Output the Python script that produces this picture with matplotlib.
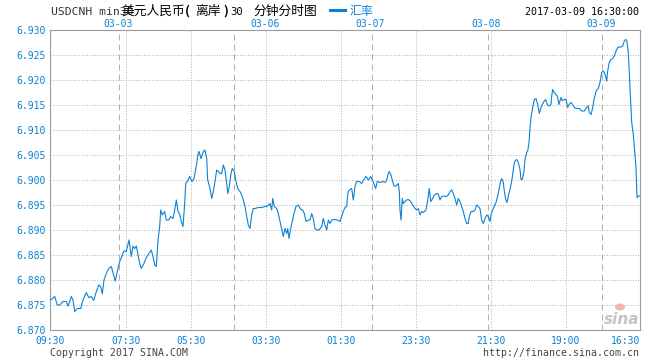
import matplotlib
matplotlib.use('Agg')
import matplotlib.pyplot as plt
from matplotlib.patches import Ellipse

# ---------------- data ----------------
pos = [0.7, 4.7, 7.3, 9.7, 13, 16.3, 18, 19.7, 21.3, 23, 24.7, 27.3, 30.7, 33, 36.3, 38.7,
       41.3, 43.7, 45.7, 48.7, 50.7, 52.3, 54, 56.3, 58.7, 61.3, 63.7, 65.3, 67.3, 69.7,
       71.3, 74, 76.3, 79, 81.3, 83, 84.7, 86.3, 88, 89.7, 91.3, 94, 96.3, 99, 101.3, 103,
       104.7, 106.3, 108, 109.7, 110.7, 112.3, 114.7, 116.3, 118.7, 120.7, 123, 124.7,
       126.3, 128, 130, 131.3, 133, 134.7, 135.7, 137.3, 139.7, 142, 144, 145.3, 146.7,
       148, 149, 151, 153.3, 155, 156.7, 157.7, 160, 161.7, 163.3, 165, 166.7, 168.3, 170,
       171.7, 173.3, 175, 176.7, 177.7, 179.3, 181, 182.3, 184.3, 186, 187.7, 190, 191.7,
       193.3, 195, 196.7, 198.3, 200, 201.7, 203.3, 205, 208.3, 211.7, 215, 216.7, 220,
       221.7, 222.7, 224.3, 226.7, 228.3, 230, 231.7, 233.3, 235, 236.7, 237.7, 239, 240.7,
       242.3, 244, 246, 248.3, 250.7, 252.7, 254.3, 256, 258.3, 260, 261.7, 263.3, 265,
       266.7, 269, 271.7, 273.3, 275, 276.7, 278.3, 280, 281.7, 285, 287.7, 290, 291.7,
       293.3, 295, 296.7, 297.3, 298.3, 300, 301.7, 303.3, 305, 306.7, 309.3, 311.7, 313.3,
       316, 318.3, 320.7, 322.3, 324.3, 325.7, 327.3, 330, 332.7, 335, 336.7, 338.3, 339.3,
       341, 342.7, 344, 346, 348.3, 349.3, 350, 351, 352.3, 353.3, 355, 356.7, 358.3, 360.7,
       362.7, 365, 366.7, 368.3, 370, 371.7, 373.3, 376, 377.7, 379.3, 380.7, 382.7, 384.3,
       386.7, 388.3, 390, 391.7, 393.3, 396, 398.3, 400, 401.7, 403.3, 405, 406.7, 408.3,
       410, 411.7, 413.3, 415, 416.7, 418.3, 419.3, 421, 423.3, 425, 426.7, 428.3, 430,
       431.7, 433.3, 435, 436.7, 438.3, 440, 441, 442.3, 444.3, 446, 447.7, 449, 450.7,
       451.7, 453.3, 454.3, 455.7, 457, 458.3, 460, 461.7, 462.7, 464, 465, 466.7, 468.3,
       470, 471, 472.3, 474, 475, 476.7, 477.7, 479, 480, 481, 482.7, 484.3, 486, 487.7,
       489.3, 491, 492.3, 494.3, 495.7, 497.3, 499.3, 501, 501.7, 502.7, 504.3, 505.7,
       507.3, 509, 511, 512.3, 514.3, 516, 517.7, 519, 521, 522.7, 524.3, 526.7, 529.3,
       531.7, 534.3, 536.7, 538.3, 539.3, 541, 542.3, 544, 545, 546, 548.3, 550, 551.7,
       553.3, 554.3, 555.7, 556.7, 557.7, 559, 560.7, 562.7, 564.3, 566, 567.7, 569.3, 571,
       572.7, 574.3, 575.7, 576.7, 578.3, 580, 581.7, 583.3, 585, 586, 587, 588.3, 589.7]

rate = [6.8760, 6.8767, 6.8750, 6.8750, 6.8757, 6.8757, 6.8748, 6.8757, 6.8767, 6.8760,
        6.8737, 6.8743, 6.8743, 6.8760, 6.8775, 6.8765, 6.8767, 6.8759, 6.8773, 6.8790,
        6.8787, 6.8772, 6.8800, 6.8813, 6.8823, 6.8827, 6.8810, 6.8798, 6.8817, 6.8837,
        6.8845, 6.8858, 6.8857, 6.8880, 6.8847, 6.8868, 6.8863, 6.8868, 6.8850, 6.8833,
        6.8823, 6.8833, 6.8845, 6.8853, 6.8860, 6.8847, 6.8830, 6.8827, 6.8880, 6.8907,
        6.8940, 6.8930, 6.8937, 6.8920, 6.8920, 6.8927, 6.8923, 6.8940, 6.8960, 6.8937,
        6.8930, 6.8917, 6.8907, 6.8953, 6.8993, 6.8997, 6.9007, 6.8997, 6.9003, 6.9017,
        6.9033, 6.9052, 6.9057, 6.9043, 6.9057, 6.9060, 6.9043, 6.9000, 6.8983, 6.8963,
        6.8977, 6.8997, 6.9020, 6.9017, 6.9013, 6.9013, 6.9030, 6.9020, 6.8993, 6.8973,
        6.8987, 6.9013, 6.9023, 6.9017, 6.8997, 6.8983, 6.8977, 6.8970, 6.8960, 6.8947,
        6.8927, 6.8910, 6.8903, 6.8930, 6.8943, 6.8943, 6.8945, 6.8945, 6.8947, 6.8947,
        6.8953, 6.8940, 6.8963, 6.8947, 6.8943, 6.8933, 6.8917, 6.8900, 6.8887, 6.8903,
        6.8893, 6.8903, 6.8883, 6.8903, 6.8917, 6.8933, 6.8947, 6.8950, 6.8941, 6.8940,
        6.8933, 6.8917, 6.8920, 6.8920, 6.8933, 6.8923, 6.8903, 6.8900, 6.8900, 6.8907,
        6.8923, 6.8910, 6.8900, 6.8920, 6.8913, 6.8920, 6.8921, 6.8920, 6.8917, 6.8927,
        6.8937, 6.8945, 6.8947, 6.8963, 6.8977, 6.8981, 6.8983, 6.8960, 6.8987, 6.8997,
        6.8997, 6.8993, 6.8999, 6.9007, 6.9000, 6.9007, 6.9000, 6.8990, 6.8983, 6.8997,
        6.8995, 6.8997, 6.8995, 6.9000, 6.9013, 6.9017, 6.9010, 6.8997, 6.8988, 6.8988,
        6.8993, 6.8977, 6.8940, 6.8920, 6.8963, 6.8953, 6.8957, 6.8960, 6.8961, 6.8957,
        6.8950, 6.8943, 6.8940, 6.8943, 6.8930, 6.8937, 6.8935, 6.8940, 6.8960, 6.8983,
        6.8957, 6.8963, 6.8970, 6.8973, 6.8972, 6.8960, 6.8967, 6.8968, 6.8967, 6.8970,
        6.8977, 6.8980, 6.8973, 6.8963, 6.8950, 6.8963, 6.8957, 6.8947, 6.8937, 6.8923,
        6.8913, 6.8913, 6.8927, 6.8937, 6.8937, 6.8940, 6.8950, 6.8947, 6.8943, 6.8920,
        6.8913, 6.8923, 6.8930, 6.8927, 6.8917, 6.8931, 6.8938, 6.8948, 6.8955, 6.8968,
        6.8981, 6.8998, 6.9003, 6.8995, 6.8978, 6.8961, 6.8955, 6.8968, 6.8981, 6.8998,
        6.9011, 6.9031, 6.9038, 6.9041, 6.9035, 6.9021, 6.9001, 6.9001, 6.9018, 6.9041,
        6.9055, 6.9058, 6.9075, 6.9105, 6.9125, 6.9145, 6.9161, 6.9163, 6.9151, 6.9133,
        6.9145, 6.9151, 6.9158, 6.9161, 6.9151, 6.9148, 6.9151, 6.9168, 6.9181, 6.9175,
        6.9171, 6.9168, 6.9151, 6.9165, 6.9159, 6.9161, 6.9161, 6.9145, 6.9151, 6.9155,
        6.9151, 6.9145, 6.9143, 6.9143, 6.9138, 6.9138, 6.9145, 6.9148, 6.9135, 6.9131,
        6.9141, 6.9161, 6.9168, 6.9178, 6.9183, 6.9195, 6.9215, 6.9218, 6.9215, 6.9206,
        6.9198, 6.9218, 6.9233, 6.9241, 6.9243, 6.9248, 6.9258, 6.9265, 6.9266, 6.9266,
        6.9268, 6.9278, 6.9281, 6.9279, 6.9255, 6.9185, 6.9115, 6.9091, 6.9048, 6.9025,
        6.8965, 6.8968, 6.8968]

y_ticks = [6.870, 6.875, 6.880, 6.885, 6.890, 6.895, 6.900, 6.905, 6.910, 6.915, 6.920, 6.925, 6.930]
time_tick_pos = [0, 75.7, 140.7, 216, 290.7, 365.7, 440.7, 515.7, 590]
time_tick_labels = ['09:30', '07:30', '05:30', '03:30', '01:30', '23:30', '21:30', '19:00', '16:30']
day_label_pos = [68, 215, 320, 436.3, 551]
day_labels = ['03-03', '03-06', '03-07', '03-08', '03-09']
day_breaks = [69.3, 184.3, 321.7, 437.7, 552.3]

# ---------------- style ----------------
BLUE = '#0c82d2'
GRID = '#b2b2b2'
FRAME = '#9a9a9a'
MONO = 'DejaVu Sans Mono'
CJK = ['Noto Sans CJK SC', 'DejaVu Sans']
plt.rcParams['font.family'] = [MONO]

W, H = 660, 360
fig = plt.figure(figsize=(W / 100, H / 100), dpi=100)
fig.patch.set_facecolor('white')


def fx(x):
    return x / W


def fy(y):
    return 1 - y / H


ax = fig.add_axes([50 / W, 30 / H, 590 / W, 300 / H])
ax.set_xlim(0, 590)
ax.set_ylim(6.870, 6.930)

for y in y_ticks[1:-1]:
    ax.axhline(y, color=GRID, lw=0.72, ls=(0, (1, 1.6)), zorder=1)
for x in time_tick_pos[1:-1]:
    ax.axvline(x, color=GRID, lw=0.72, ls=(0, (1, 1.6)), zorder=1)
for x in day_breaks:
    ax.axvline(x, color='#b0b0b0', lw=0.72, ls=(0, (6, 4)), zorder=1)

ax.plot(pos, rate, color=BLUE, lw=0.8, zorder=3)

for s in ax.spines.values():
    s.set_color(FRAME)
    s.set_linewidth(0.8)

ax.set_yticks(y_ticks)
ax.set_yticklabels([f'{v:.3f}' for v in y_ticks])
ax.set_xticks(time_tick_pos)
ax.set_xticklabels(time_tick_labels)
ax.tick_params(axis='y', length=0, pad=3, labelsize=7, labelcolor=BLUE)
ax.tick_params(axis='x', length=0, pad=4.5, labelsize=7, labelcolor=BLUE)
ax.get_xticklabels()[-1].set_ha('right')

sec = ax.secondary_xaxis('top')
sec.set_xticks(day_label_pos)
sec.set_xticklabels(day_labels)
sec.tick_params(length=0, pad=1, labelsize=7, labelcolor=BLUE)
sec.spines['top'].set_visible(False)

# ---------------- header ----------------
fig.text(fx(51), fy(12), 'USDCNH min30', fontsize=8.2, color='#333333',
         family=MONO, ha='left', va='center')
fig.text(fx(121), fy(11.5), '美元人民币', fontsize=9.2, color='black',
         family=CJK, ha='left', va='center')
fig.text(fx(185), fy(11.5), '(', fontsize=9.2, color='black',
         family=CJK, ha='left', va='center', weight='bold')
fig.text(fx(195), fy(11.5), '离岸', fontsize=9.2, color='black',
         family=CJK, ha='left', va='center')
fig.text(fx(223), fy(11.5), ')', fontsize=9.2, color='black',
         family=CJK, ha='left', va='center', weight='bold')
fig.text(fx(230), fy(12), '30', fontsize=7.6, color='black',
         family=MONO, ha='left', va='center')
fig.text(fx(253), fy(11.5), '分钟分时图', fontsize=9.2, color='black',
         family=CJK, ha='left', va='center')

# legend
leg_line = plt.Line2D([fx(330), fx(345)], [fy(9.5), fy(9.5)], transform=fig.transFigure,
                      color=BLUE, lw=2.2)
fig.add_artist(leg_line)
fig.text(fx(350), fy(11), '汇率', fontsize=8.6, color=BLUE, family=CJK,
         ha='left', va='center')

fig.text(fx(639), fy(12), '2017-03-09 16:30:00', fontsize=7.2, color='black',
         family=MONO, ha='right', va='center')

# ---------------- footer ----------------
fig.text(fx(50), fy(353), 'Copyright 2017 SINA.COM', fontsize=7.1, color='#444444',
         family=MONO, ha='left', va='center')
fig.text(fx(639), fy(353), 'http://finance.sina.com.cn', fontsize=7.1, color='#444444',
         family=MONO, ha='right', va='center')

# watermark
fig.add_artist(Ellipse((fx(620), fy(307)), width=10 / W, height=7 / H,
                       transform=fig.transFigure, facecolor='#f4b4b4',
                       edgecolor='none', zorder=5))
fig.text(fx(622), fy(319), 'sina', fontsize=11, color='#c4c4c4', family='DejaVu Sans',
         style='italic', weight='bold', ha='center', va='center', zorder=6)

fig.savefig('out.png', dpi=100)
